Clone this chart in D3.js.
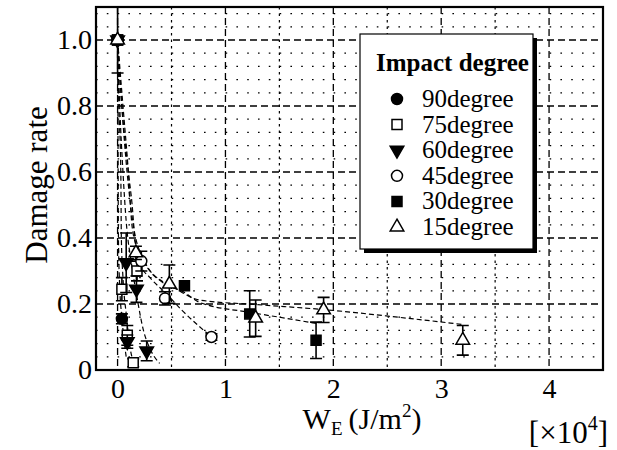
<!DOCTYPE html>
<html>
<head>
<meta charset="utf-8">
<script src="https://cdn.jsdelivr.net/npm/d3@7"></script>
<style>
body { margin: 0; background: #fff; }
svg text { font-family: "Liberation Serif", serif; }
</style>
</head>
<body>
<div id="chart"></div>
<script>
var xTicks = [0, 1, 2, 3, 4];
var yTicks = [0, 0.2, 0.4, 0.6, 0.8, 1.0];
var yTickLabels = ["0", "0.2", "0.4", "0.6", "0.8", "1.0"];
var seriesNames = ["90degree", "75degree", "60degree", "45degree", "30degree", "15degree"];

// measured points: [W_E (x10^4 J/m2), damage rate, error]
var deg90 = [[0, 1.0, 0.1], [0.04, 0.155, 0.015]];
var deg75 = [[0, 1.0, 0], [0.04, 0.245, 0.035], [0.18, 0.30, 0.03], [0.09, 0.105, 0.03], [0.145, 0.022, 0.012]];
var deg60 = [[0, 1.0, 0], [0.08, 0.325, 0.09], [0.175, 0.245, 0.04], [0.09, 0.086, 0.02], [0.27, 0.058, 0.03]];
var deg45 = [[0, 1.0, 0], [0.22, 0.33, 0.03], [0.44, 0.217, 0.02], [0.87, 0.10, 0.01]];
var deg30 = [[0, 1.0, 0], [0.62, 0.255, 0], [1.225, 0.17, 0.07], [1.84, 0.09, 0.055]];
var deg15 = [[0, 1.0, 0], [0.17, 0.355, 0.02], [0.48, 0.26, 0.058], [1.28, 0.157, 0.055], [1.91, 0.182, 0.038], [3.2, 0.09, 0.045]];

// fitted curves (dashed)
var fit90 = [[0, 1], [0.003, 0.8], [0.005, 0.6], [0.008, 0.4], [0.02, 0.25], [0.04, 0.16], [0.06, 0.09], [0.08, 0.04]];
var fit75 = [[0, 1], [0.012, 0.8], [0.03, 0.6], [0.035, 0.4], [0.05, 0.28], [0.08, 0.17], [0.11, 0.08], [0.15, 0.02]];
var fit60 = [[0, 1], [0.02, 0.8], [0.05, 0.6], [0.08, 0.45], [0.13, 0.32], [0.18, 0.22], [0.24, 0.12], [0.3, 0.065], [0.39, 0.02]];
var fit45 = [[0, 1], [0.04, 0.8], [0.1, 0.6], [0.135, 0.5], [0.16, 0.4], [0.21, 0.32], [0.3, 0.28], [0.44, 0.235], [0.6, 0.18], [0.87, 0.1]];
var fit30 = [[0, 1], [0.05, 0.75], [0.1, 0.56], [0.15, 0.43], [0.25, 0.33], [0.4, 0.27], [0.62, 0.235], [0.76, 0.205], [1.22, 0.175], [1.5, 0.16], [1.86, 0.14]];
var fit15 = [[0, 1], [0.05, 0.8], [0.1, 0.6], [0.13, 0.45], [0.17, 0.38], [0.3, 0.3], [0.5, 0.255], [0.76, 0.212], [1.3, 0.198], [1.95, 0.182], [2.6, 0.16], [3.2, 0.138]];

var allSeries = [deg90, deg75, deg60, deg45, deg30, deg15];
var allFits = [fit90, fit75, fit60, fit45, fit30, fit15];
// symbol type, rotation, filled
var symTypes = [d3.symbolCircle, d3.symbolSquare, d3.symbolTriangle, d3.symbolCircle, d3.symbolSquare, d3.symbolTriangle];
var symRot = [0, 0, 180, 0, 0, 0];
var symFill = [true, false, true, false, true, false];
var symSize = [95, 100, 80, 95, 100, 80];

var serif = "'Liberation Serif'";

var width = 617, height = 450;
var svg = d3.select("#chart").append("svg")
	.attr("width", width)
	.attr("height", height);

var x = d3.scaleLinear().domain([-0.2, 4.5]).range([96, 603]);
var y = d3.scaleLinear().domain([0, 1.1]).range([370, 7]);

var grid = svg.append("g");

// minor horizontal rows (dotted)
grid.selectAll(".hminor")
	.data(d3.range(0.04, 1.1, 0.04).filter(function(v) { return Math.abs(v / 0.2 - Math.round(v / 0.2)) > 0.01; }))
	.enter().append("line")
	.attr("x1", x(-0.2)).attr("x2", x(4.5))
	.attr("y1", function(d) { return y(d); }).attr("y2", function(d) { return y(d); })
	.attr("stroke", "#000").attr("stroke-width", 1.3)
	.attr("stroke-dasharray", "1.6,9.2");

// minor vertical lines at half units
grid.selectAll(".vminor")
	.data([0.5, 1.5, 2.5, 3.5])
	.enter().append("line")
	.attr("x1", function(d) { return x(d); }).attr("x2", function(d) { return x(d); })
	.attr("y1", y(1.1)).attr("y2", y(0))
	.attr("stroke", "#000").attr("stroke-width", 1.2)
	.attr("stroke-dasharray", "2.5,4");

// major grid (dashed)
grid.selectAll(".hmajor")
	.data(yTicks.slice(1))
	.enter().append("line")
	.attr("x1", x(-0.2)).attr("x2", x(4.5))
	.attr("y1", function(d) { return y(d); }).attr("y2", function(d) { return y(d); })
	.attr("stroke", "#000").attr("stroke-width", 1.3)
	.attr("stroke-dasharray", "7,4");

grid.selectAll(".vmajor")
	.data(xTicks)
	.enter().append("line")
	.attr("x1", function(d) { return x(d); }).attr("x2", function(d) { return x(d); })
	.attr("y1", y(1.1)).attr("y2", y(0))
	.attr("stroke", "#000").attr("stroke-width", 1.3)
	.attr("stroke-dasharray", "7,4");

// fitted curves
var line = d3.line()
	.x(function(d) { return x(d[0]); })
	.y(function(d) { return y(d[1]); })
	.curve(d3.curveMonotoneX);

svg.append("g").selectAll("path")
	.data(allFits)
	.enter().append("path")
	.attr("d", line)
	.attr("fill", "none")
	.attr("stroke", "#000")
	.attr("stroke-width", 1.2)
	.attr("stroke-dasharray", "5,3");

// error bars + markers
allSeries.forEach(function(ser, i) {
	var g = svg.append("g");
	var withErr = ser.filter(function(d) { return d[2] > 0; });
	g.selectAll(".eb")
		.data(withErr)
		.enter().append("path")
		.attr("d", function(d) {
			var cx = x(d[0]), t = y(d[1] + d[2]), b = y(d[1] - d[2]);
			return "M" + cx + "," + t + "V" + b +
				"M" + (cx - 6) + "," + t + "H" + (cx + 6) +
				"M" + (cx - 6) + "," + b + "H" + (cx + 6);
		})
		.attr("fill", "none")
		.attr("stroke", "#000")
		.attr("stroke-width", 1.6);

	g.selectAll(".pt")
		.data(ser)
		.enter().append("path")
		.attr("d", d3.symbol().type(symTypes[i]).size(symSize[i]))
		.attr("transform", function(d) {
			return "translate(" + x(d[0]) + "," + y(d[1]) + ") rotate(" + symRot[i] + ")";
		})
		.attr("fill", symFill[i] ? "#000" : "#fff")
		.attr("stroke", "#000")
		.attr("stroke-width", 1.5);
});

// frame
svg.append("rect")
	.attr("x", x(-0.2)).attr("y", y(1.1))
	.attr("width", x(4.5) - x(-0.2)).attr("height", y(0) - y(1.1))
	.attr("fill", "none").attr("stroke", "#000").attr("stroke-width", 2.2);

// axes (labels only)
var xAxis = d3.axisBottom(x).tickValues(xTicks).tickSize(0).tickPadding(8).tickFormat(d3.format("d"));
var gx = svg.append("g").attr("transform", "translate(0," + y(0) + ")").call(xAxis);
gx.attr("font-family", "Liberation Serif").attr("font-size", 28);
gx.select(".domain").remove();
gx.selectAll("text").style("font-family", serif).style("font-size", "28px");

var yAxis = d3.axisLeft(y).tickValues(yTicks).tickSize(0).tickPadding(4)
	.tickFormat(function(d, i) { return yTickLabels[i]; });
var gy = svg.append("g").attr("transform", "translate(" + x(-0.2) + ",0)").call(yAxis);
gy.attr("font-family", "Liberation Serif").attr("font-size", 28);
gy.select(".domain").remove();
gy.selectAll("text").style("font-family", serif).style("font-size", "28px");

// axis titles
svg.append("text")
	.attr("transform", "translate(47," + 185 + ") rotate(-90)")
	.attr("text-anchor", "middle")
	.style("font-family", serif).style("font-size", "31px")
	.text("Damage rate");

var xt = svg.append("text")
	.attr("x", 362).attr("y", 429)
	.attr("text-anchor", "middle")
	.style("font-family", serif).style("font-size", "30px");
xt.append("tspan").text("W");
xt.append("tspan").style("font-size", "19px").attr("dy", 6).text("E");
xt.append("tspan").attr("dy", -6).text("\u2009(J/m");
xt.append("tspan").style("font-size", "19px").attr("dy", -12).text("2");
xt.append("tspan").attr("dy", 12).text(")");

var xs = svg.append("text")
	.attr("x", 608).attr("y", 443)
	.attr("text-anchor", "end")
	.style("font-family", serif).style("font-size", "31px");
xs.append("tspan").text("[\u00d710");
xs.append("tspan").style("font-size", "20px").attr("dy", -13).text("4");
xs.append("tspan").attr("dy", 13).text("]");

// legend
var lg = svg.append("g");
lg.append("rect").attr("x", 364).attr("y", 38).attr("width", 173).attr("height", 215).attr("fill", "#000");
lg.append("rect").attr("x", 360).attr("y", 34).attr("width", 173).attr("height", 215)
	.attr("fill", "#fff").attr("stroke", "#000").attr("stroke-width", 1.2);
lg.append("text").attr("x", 376).attr("y", 71)
	.style("font-family", serif).style("font-size", "25px").style("font-weight", "bold")
	.text("Impact degree");

var items = lg.selectAll(".item")
	.data(seriesNames)
	.enter().append("g")
	.attr("transform", function(d, i) { return "translate(0," + (i * 25.6) + ")"; });

items.append("path")
	.attr("d", function(d, i) { return d3.symbol().type(symTypes[i]).size(symSize[i])(); })
	.attr("transform", function(d, i) { return "translate(397,99) rotate(" + symRot[i] + ")"; })
	.attr("fill", function(d, i) { return symFill[i] ? "#000" : "#fff"; })
	.attr("stroke", "#000")
	.attr("stroke-width", 1.5);

items.append("text")
	.attr("x", 422).attr("y", 107)
	.style("font-family", serif).style("font-size", "25px")
	.text(function(d) { return d; });
</script>
</body>
</html>
